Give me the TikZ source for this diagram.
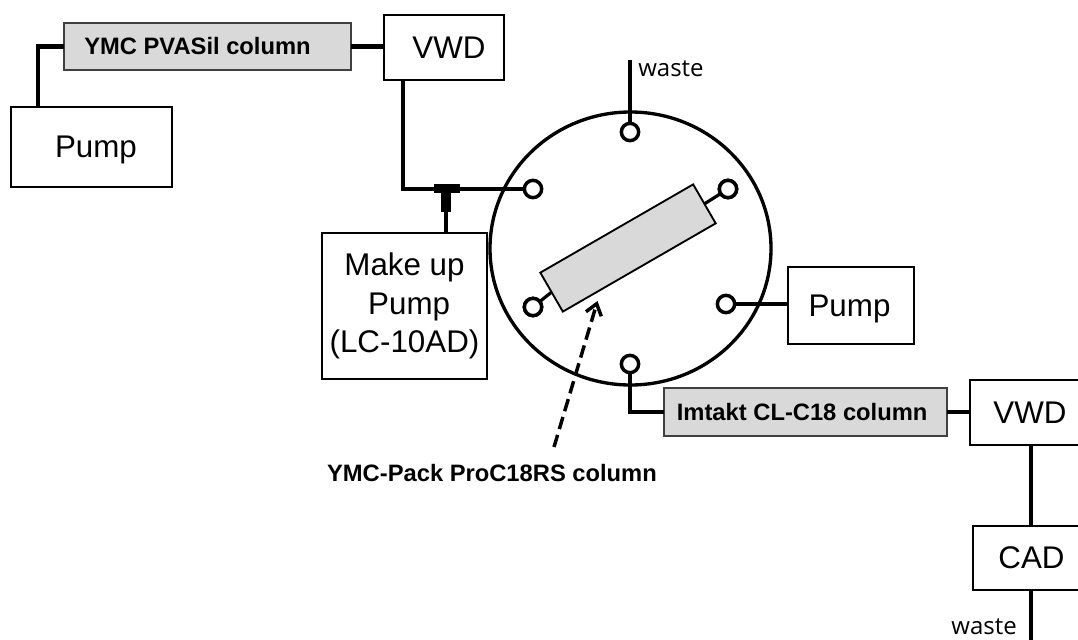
\documentclass[tikz,border=0pt]{standalone}
\usepackage{fontspec}
\setmainfont{Liberation Sans}
\newfontfamily\wastefont{Open Sans}
\usetikzlibrary{shapes.geometric,arrows.meta}
\tikzset{
  x=0.75pt,y=-0.75pt,
  sized/.style 2 args={minimum width=#1*0.75pt,minimum height=#2*0.75pt},
  unit/.style={draw=black,line width=1.6pt,fill=white,inner sep=0pt,outer sep=0pt,align=center,font=\fontsize{23.5pt}{29pt}\selectfont},
  gcol/.style={draw=black!75,line width=1.4pt,fill=black!15,inner sep=0pt,outer sep=0pt,font=\fontsize{17.8pt}{20pt}\selectfont\bfseries},
  portc/.style={circle,draw=black,line width=2.6pt,fill=white,inner sep=0pt,outer sep=0pt,minimum size=13pt},
  tube/.style={line width=3.2pt,line join=miter,draw=black},
  wastelabel/.style={font=\wastefont\fontsize{18pt}{20pt}\selectfont,inner sep=0pt},
  collabel/.style={font=\fontsize{17.8pt}{20pt}\selectfont\bfseries,inner sep=0pt},
}
\begin{document}
\begin{tikzpicture}
\useasboundingbox (0,0) rectangle (1078,639);
% valve body
\node[ellipse,draw=black,line width=2.5pt,fill=white,inner sep=0pt,sized={281}{273}] (valve) at (630.5,248.5) {};
% boxes
\node[unit,sized={161}{80}] (pumpA) at (91.5,147) {\hspace*{6.75pt}\raisebox{-7.5pt}[0pt][0pt]{Pump}};
\node[gcol,sized={287}{47}] (colA) at (207.5,46.5) {\hspace*{-15pt}YMC PVASil column};
\node[unit,sized={120}{65}] (vwdA) at (444,47.5) {\hspace*{7.5pt}VWD};
\node[unit,sized={165}{146}] (makeup) at (404.5,306) {Make up\\\hspace*{7pt}Pump\\(LC-10AD)};
\node[unit,sized={126}{77}] (pumpB) at (851,305.5) {\hspace*{-2.25pt}\raisebox{-8.6pt}[0pt][0pt]{Pump}};
\node[gcol,sized={283}{48}] (colB) at (805.5,412) {\hspace*{-5pt}Imtakt CL-C18 column};
\node[unit,sized={120}{65}] (vwdB) at (1030,412.5) {VWD};
\node[unit,sized={117}{64}] (cad) at (1031.5,558) {CAD};
% ports
\node[portc] (portT) at (630,132) {};
\node[portc] (portL) at (533,189) {};
\node[portc] (portR) at (728,189) {};
\node[portc] (portDL) at (533,307) {};
\node[portc] (portDR) at (726,304) {};
\node[portc] (portB) at (630,364) {};
% column inside the valve
\node[gcol,draw=black,rotate=30,sized={176.5}{45}] (colC) at (628,248) {};
% coordinates for free ends and bends
\coordinate (wasteA) at (630,60);
\coordinate (bendA) at (38,46.5);
\coordinate (bendB) at (403,189);
\coordinate (bendC) at (630,412);
\coordinate (wasteB) at (1031,645);
\coordinate (arrowStart) at (554,447);
\coordinate (arrowEnd) at (597.5,301);
% connectors
\draw[tube] (pumpA.north -| bendA) -- (bendA) -- (colA.west);
\draw[tube] (colA.east) -- (vwdA.west |- colA.east);
\draw[tube] (vwdA.south -| bendB) -- (bendB) -- (portL.west);
\draw[tube] (portT.north) -- (wasteA);
\draw[tube] (portDR.east) -- (pumpB.west |- portDR.east);
\draw[tube] (portB.south) -- (bendC) -- (colB.west);
\draw[tube] (colB.east) -- (vwdB.west |- colB.east);
\draw[tube] (vwdB.south -| wasteB) -- (cad.north -| wasteB);
\draw[tube] (cad.south -| wasteB) -- (wasteB);
\draw[line width=2.4pt] (portR) -- (colC.east);
\draw[line width=2.4pt] (portDL) -- (colC.west);
\node[portc] at (portR) {};
\node[portc] at (portDL) {};
% tee
\node[fill=black,inner sep=0pt,outer sep=0pt,sized={26}{9}] (teeBar) at (446.5,188.5) {};
\node[fill=black,inner sep=0pt,outer sep=0pt,sized={10}{19}] (teeStem) at (446,202.5) {};
\draw[tube] (teeStem.south) -- (makeup.north -| teeStem.south);
% dashed arrow
\draw[line width=2.6pt,dash pattern=on 9.5pt off 4.5pt,-{Straight Barb[length=8pt,width=12pt,line width=2.6pt]}] (arrowStart) -- (arrowEnd);
% labels
\node[wastelabel,anchor=base west] (wasteTopLabel) at (638,76) {waste};
\node[wastelabel,anchor=base east] (wasteLowLabel) at (1017,634) {waste};
\node[collabel,anchor=base] (colCLabel) at (492,481) {YMC-Pack ProC18RS column};
\end{tikzpicture}
\end{document}
